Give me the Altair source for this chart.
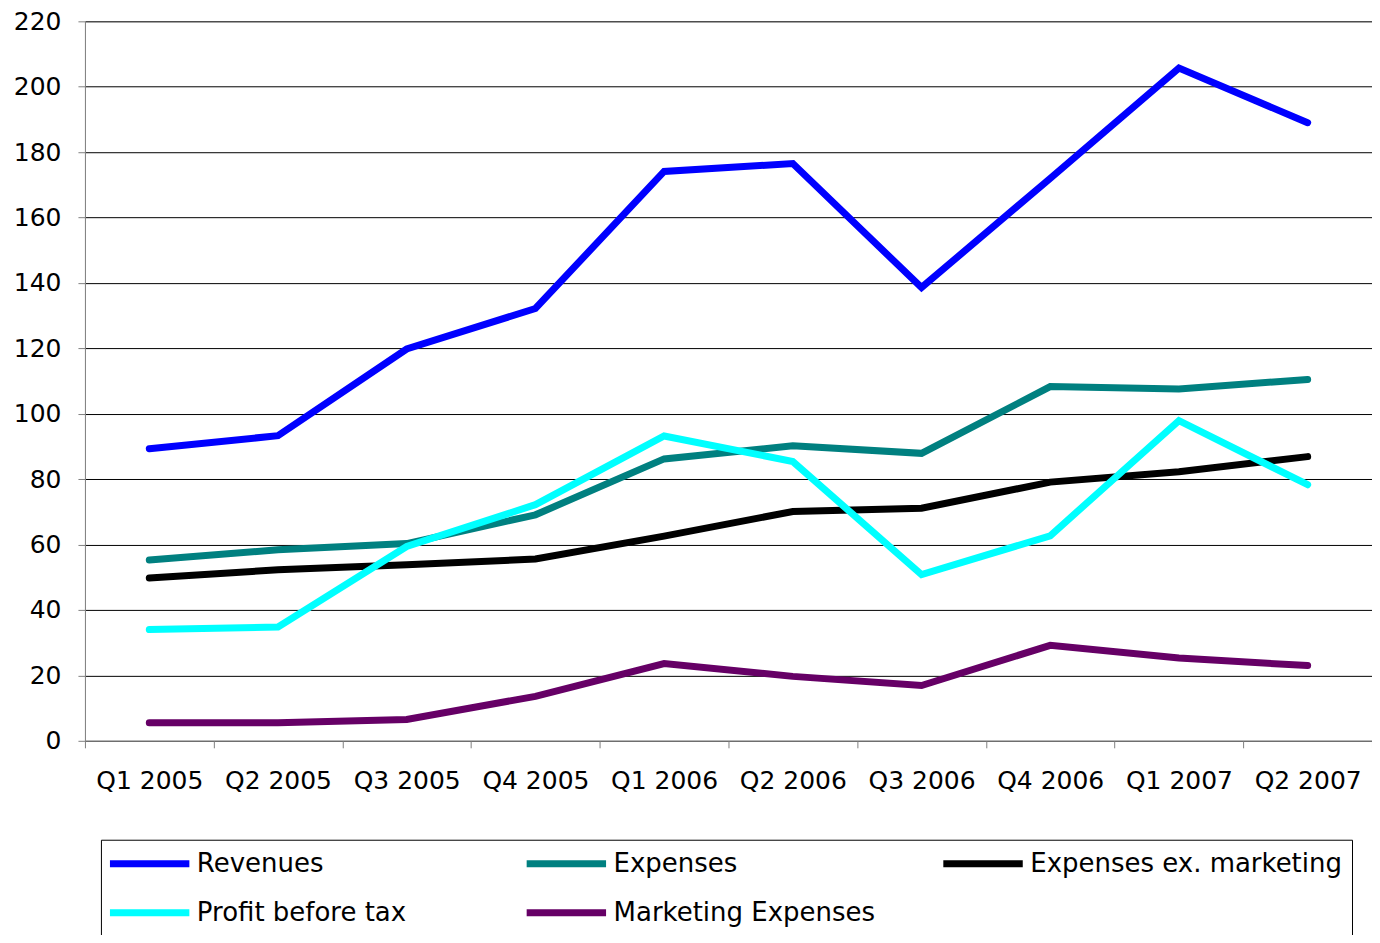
import altair as alt
import pandas as pd

quarters = ["Q1 2005", "Q2 2005", "Q3 2005", "Q4 2005", "Q1 2006",
            "Q2 2006", "Q3 2006", "Q4 2006", "Q1 2007", "Q2 2007"]
series_names = ["Revenues", "Expenses", "Expenses ex. marketing",
                "Profit before tax", "Marketing Expenses"]
series_colors = ["#0000FF", "#008080", "#000000", "#00FFFF", "#660066"]

revenues = [89.3, 93.3, 119.8, 132.2, 174.1, 176.5, 138.6, 172.0, 205.7, 189.0]
expenses = [55.3, 58.4, 60.3, 69.1, 86.2, 90.2, 87.9, 108.3, 107.6, 110.5]
expenses_ex_marketing = [49.8, 52.3, 53.8, 55.6, 62.6, 70.1, 71.1, 79.1, 82.3, 86.9]
profit_before_tax = [34.0, 34.8, 59.4, 72.2, 93.2, 85.4, 50.8, 62.7, 97.9, 78.3]
marketing_expenses = [5.5, 5.5, 6.5, 13.6, 23.6, 19.7, 16.9, 29.2, 25.3, 23.0]

all_series = [revenues, expenses, expenses_ex_marketing,
              profit_before_tax, marketing_expenses]

rows = []
for si, (name, vals) in enumerate(zip(series_names, all_series)):
    for qi, (q, v) in enumerate(zip(quarters, vals)):
        rows.append({"quarter": q, "value": v, "series": name,
                     "sidx": si, "qidx": qi})
df = pd.DataFrame(rows)

FONT = "DejaVu Sans"

chart = (
    alt.Chart(df)
    .mark_line(strokeWidth=7, strokeCap="round", strokeJoin="miter")
    .encode(
        x=alt.X(
            "quarter:N",
            sort=quarters,
            scale=alt.Scale(type="band", paddingInner=0, paddingOuter=0),
            axis=alt.Axis(
                title=None,
                labelAngle=0,
                tickBand="extent",
                labelFont=FONT,
                labelFontSize=25,
                labelColor="#000000",
                labelPadding=21,
                tickSize=7,
                tickColor="#808080",
                domainColor="#808080",
                domainWidth=1,
                grid=False,
            ),
        ),
        y=alt.Y(
            "value:Q",
            scale=alt.Scale(domain=[0, 220], nice=False),
            axis=alt.Axis(
                title=None,
                values=list(range(0, 221, 20)),
                labelFont=FONT,
                labelFontSize=25,
                labelColor="#000000",
                labelPadding=17,
                tickSize=7,
                tickColor="#808080",
                domainColor="#808080",
                grid=True,
                gridColor="#000000",
                gridWidth=1,
            ),
        ),
        color=alt.Color(
            "series:N",
            sort=series_names,
            scale=alt.Scale(domain=series_names, range=series_colors),
            legend=alt.Legend(
                title=None,
                orient="none",
                legendX=16,
                legendY=819,
                direction="horizontal",
                columns=3,
                gridAlign="all",
                columnPadding=17,
                rowPadding=19,
                clipHeight=30,
                symbolType="stroke",
                symbolSize=6400,
                symbolStrokeWidth=7,
                symbolOffset=-4,
                labelFont=FONT,
                labelFontSize=26,
                labelColor="#000000",
                labelLimit=0,
                labelOffset=4,
                padding=9,
                strokeColor="#000000",
                fillColor="#FFFFFF",
            ),
        ),
        detail="sidx:O",
        order="qidx:Q",
    )
    .properties(
        width=1288,
        height=720,
        autosize=alt.AutoSizeParams(type="none"),
        padding={"left": 77, "top": 13, "right": 0, "bottom": 194},
    )
    .configure_view(stroke=None)
    .configure(background="#FFFFFF")
)

chart.save("out.html", embed_options={"renderer": "svg", "actions": False})
